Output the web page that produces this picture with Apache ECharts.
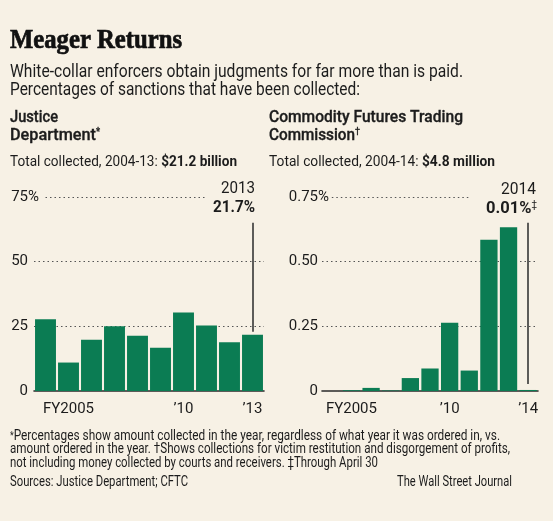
<!DOCTYPE html>
<html><head><meta charset="utf-8">
<script src="https://cdn.jsdelivr.net/npm/echarts@6/dist/echarts.min.js"></script>
<style>html,body{margin:0;padding:0;background:#f7f1e5;}#c{width:553px;height:521px;}</style>
</head><body><div id="c"></div>
<script>
// ---- data ----
const dojYears = ['2004','2005','2006','2007','2008','2009','2010','2011','2012','2013'];
const dojValues = [27.7, 11.0, 19.8, 25.0, 21.4, 16.7, 30.3, 25.3, 18.8, 21.7];
const dojTickLabels = {'2005':'FY2005','2010':'’10','2013':'’13'};
const cftcYears = ['2004','2005','2006','2007','2008','2009','2010','2011','2012','2013','2014'];
const cftcValues = [0, 0.003, 0.012, 0.002, 0.05, 0.087, 0.264, 0.079, 0.585, 0.633, 0.004];
const cftcTickLabels = {'2005':'FY2005','2010':'’10','2014':'’14'};
const dojMax = 75, dojStep = 25;
const cftcMax = 0.75, cftcStep = 0.25;

// ---- style ----
const SANS = 'Roboto, "Liberation Sans", Arial, sans-serif';
const SERIF = '"Liberation Serif", "DejaVu Serif", serif';
const INK = '#1c1c1c';
const GREEN = '#0b7c53';
const BG = '#f7f1e5';

const cv = document.createElement('canvas').getContext('2d');
function measure(t, size, weight, fam){ cv.font = weight + ' ' + size + 'px ' + fam; return cv.measureText(t).width; }

function label(x, baseline, parts, target, align, color, strokeW){
  const rich = {}; let str = ''; let total = 0;
  const mainSize = parts[0][1];
  const c = color || INK;
  parts.forEach((p, i) => {
    const t = p[0], size = p[1], weight = p[2] || 'normal', fam = p[3] || SANS, sup = p[4];
    rich['p'+i] = {fontSize:size, fontWeight:weight, fontFamily:fam, fill:c, color:c,
      stroke: strokeW ? c : null, lineWidth: strokeW || 0,
      lineHeight: mainSize, verticalAlign: sup ? 'top' : 'middle'};
    str += '{p'+i+'|'+t+'}';
    total += measure(t, size, weight, fam);
  });
  return {type:'text', x:x, y: baseline - 0.35*mainSize, scaleX: target ? target/total : 1, silent:true,
    style:{text:str, rich:rich, align: align||'left', verticalAlign:'middle', fontSize:mainSize, fontFamily:SANS, fill:c}};
}

const texts = [
  label(10, 50, [['Meager Returns', 27, 'bold', SERIF]], 172, 'left', '#111', 0.7),
  label(10, 79, [['White-collar enforcers obtain judgments for far more than is paid.', 18]], 453),
  label(10, 97, [['Percentages of sanctions that have been collected:', 18]], 350),
  label(10, 124, [['Justice', 17, 500]], 48, 'left', INK, 0.35),
  label(10, 142, [['Department', 17, 500], ['*', 10, 'normal', SANS, true]], 90, 'left', INK, 0.35),
  label(269, 124, [['Commodity Futures Trading', 17, 500]], 194, 'left', INK, 0.35),
  label(269, 142, [['Commission', 17, 500], ['†', 10, 'normal', SANS, true]], 91, 'left', INK, 0.35),
  label(10, 168, [['Total collected, 2004-13: ', 15.5], ['$21.2 billion', 15.5, 'bold']], 227),
  label(269, 168, [['Total collected, 2004-14: ', 15.5], ['$4.8 million', 15.5, 'bold']], 226),
  label(255, 195, [['2013', 17]], 34, 'right'),
  label(255, 214, [['21.7%', 17, 'bold']], 42, 'right'),
  label(536, 196, [['2014', 17]], 35, 'right'),
  label(537, 215, [['0.01%', 17, 'bold'], ['‡', 10, 'normal', SANS, true]], 51, 'right'),
  label(10, 440, [['*', 10, 'normal', SANS, true], ['Percentages show amount collected in the year, regardless of what year it was ordered in, vs.', 14]], 490),
  label(10, 454, [['amount ordered in the year. †Shows collections for victim restitution and disgorgement of profits,', 14]], 500),
  label(10, 468, [['not including money collected by courts and receivers. ‡Through April 30', 14]], 368),
  label(10, 487, [['Sources: Justice Department; CFTC', 15]], 178),
  label(512, 487, [['The Wall Street Journal', 15]], 115, 'right')
];

function xAxisCfg(grid, cats, map){
  return {gridIndex:grid, type:'category', data:cats,
    axisLine:{lineStyle:{color:'#2a2a2a', width:1.6}},
    axisTick:{alignWithLabel:true, length:5, interval:(i,v)=> v in map, lineStyle:{color:'#2a2a2a', width:1.5}},
    axisLabel:{interval:(i,v)=> v in map, formatter:v=> map[v] || '', fontFamily:SANS, fontSize:15, color:INK, margin:11}};
}
// numbers right-aligned; the '%' on the top label hangs to the right of the number column
// (other labels carry an invisible '%' so the digits line up)
function yAxisCfg(grid, max, step, margin, fmt){
  return {gridIndex:grid, type:'value', min:0, max:max, interval:step,
    axisLine:{show:false}, axisTick:{show:false},
    splitLine:{show:true, showMinLine:false, showMaxLine:false, lineStyle:{color:'#555', width:1, type:[1.5,3]}},
    axisLabel:{margin:margin,
      formatter:v=> '{n|'+fmt(v)+'}' + (v === max ? '{p|%}' : '{h|%}'),
      rich:{n:{fontFamily:SANS, fontSize:15, color:INK},
            p:{fontFamily:SANS, fontSize:15, color:INK},
            h:{fontFamily:SANS, fontSize:15, color:'rgba(0,0,0,0)'}}}};
}
const dotted = {color:'#555', width:1, type:[1.5,3]};
const solid = {color:'#2a2a2a', width:1.5, type:'solid'};

const option = {
  backgroundColor: BG,
  animation:false,
  grid:[{left:34, top:197, width:230, height:194},{left:322, top:197, width:216, height:194}],
  xAxis:[xAxisCfg(0, dojYears, dojTickLabels), xAxisCfg(1, cftcYears, cftcTickLabels)],
  yAxis:[yAxisCfg(0, dojMax, dojStep, -5, v=>String(v)),
         yAxisCfg(1, cftcMax, cftcStep, -7, v=> v === 0 ? '0' : v.toFixed(2))],
  series:[
    {type:'bar', xAxisIndex:0, yAxisIndex:0, data:dojValues, barCategoryGap:'9%', itemStyle:{color:GREEN},
     markLine:{silent:true, symbol:'none', label:{show:false}, data:[
       [{coord:[dojYears[0], dojMax], lineStyle:dotted},{coord:[dojYears[7], dojMax]}],
       [{coord:[dojYears[9], 65], lineStyle:solid},{coord:[dojYears[9], dojValues[9]+1.2]}]
     ]}},
    {type:'bar', xAxisIndex:1, yAxisIndex:1, data:cftcValues, barCategoryGap:'12%', itemStyle:{color:GREEN},
     markLine:{silent:true, symbol:'none', label:{show:false}, data:[
       [{coord:[cftcYears[0], cftcMax], lineStyle:dotted},{coord:[cftcYears[7], cftcMax]}],
       [{coord:[cftcYears[10], 0.65], lineStyle:solid},{coord:[cftcYears[10], 0.027]}]
     ]}}
  ],
  graphic: texts
};
const chart = echarts.init(document.getElementById('c'), null, {renderer:'canvas'});
chart.setOption(option);
</script></body></html>
